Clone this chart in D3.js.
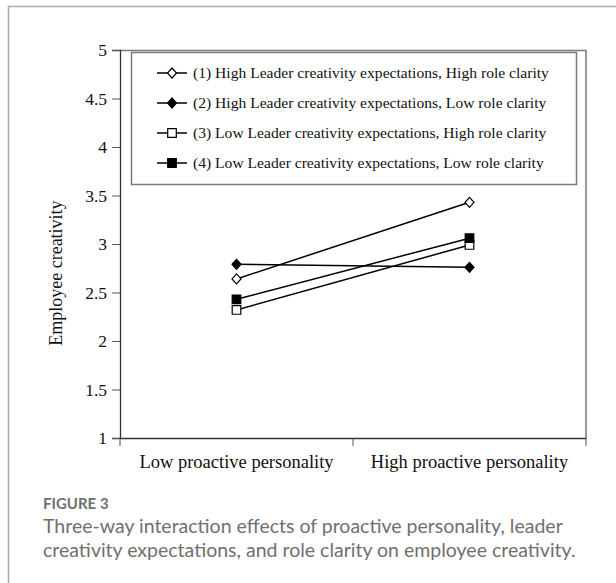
<!DOCTYPE html>
<html>
<head>
<meta charset="utf-8">
<script src="https://cdn.jsdelivr.net/npm/d3@7"></script>
<style>
  body { margin: 0; background: #fff; }
  svg { display: block; }
</style>
</head>
<body>
<script>
// data
const groups = ['Low proactive personality', 'High proactive personality'];
const seriesNames = [
    '(1) High Leader creativity expectations, High role clarity',
    '(2) High Leader creativity expectations, Low role clarity',
    '(3) Low Leader creativity expectations, High role clarity',
    '(4) Low Leader creativity expectations, Low role clarity'
];
const s1 = [2.64, 3.43];
const s2 = [2.79, 2.76];
const s3 = [2.32, 2.99];
const s4 = [2.43, 3.06];
const yTicks = [1, 1.5, 2, 2.5, 3, 3.5, 4, 4.5, 5];
const markers = ['diamondOpen', 'diamond', 'squareOpen', 'square'];

const W = 616, H = 583;
const margin = {top: 50, right: 30, bottom: 145, left: 120};
const width = W - margin.left - margin.right,
      height = H - margin.top - margin.bottom;
const serif = '"Liberation Serif", "Times New Roman", serif';

const root = d3.select('body').append('svg')
    .attr('width', W)
    .attr('height', H);

// outer figure frame (left and top only)
root.append('path')
    .attr('d', 'M8.5,' + H + 'V6.5H' + W)
    .attr('fill', 'none')
    .attr('stroke', '#adadad')
    .attr('stroke-width', 1.5);

const svg = root.append('g')
    .attr('transform', 'translate(' + margin.left + ',' + margin.top + ')');

const x = d3.scaleBand().domain(groups).range([0, width]);
const y = d3.scaleLinear().domain([1, 5]).range([height, 0]);

// plot frame top / right
svg.append('path')
    .attr('d', 'M0,0.5H' + width + 'V' + height)
    .attr('fill', 'none')
    .attr('stroke', '#7a7a7a')
    .attr('stroke-width', 1.5);

// y axis
const yAxis = svg.append('g')
    .call(d3.axisLeft(y).tickValues(yTicks).tickSize(8).tickPadding(5).tickFormat(d3.format('')));
yAxis.select('.domain').attr('stroke', '#333').attr('stroke-width', 1.3);
yAxis.selectAll('.tick line').attr('stroke', '#555');
yAxis.selectAll('text').style('font-family', serif).style('font-size', '17.5px').attr('fill', '#111');

// x axis with ticks at band edges
const xAxis = svg.append('g')
    .attr('transform', 'translate(0,' + height + ')')
    .call(d3.axisBottom(x).tickSize(0).tickPadding(17));
xAxis.select('.domain').attr('stroke', '#333').attr('stroke-width', 1.3);
xAxis.selectAll('text').style('font-family', serif).style('font-size', '18.5px').attr('fill', '#111');
xAxis.selectAll('.edge')
    .data([0, x.bandwidth(), width])
    .enter().append('line')
    .attr('x1', d => d).attr('x2', d => d)
    .attr('y1', 0).attr('y2', 8)
    .attr('stroke', '#555');

// y axis title
svg.append('text')
    .attr('transform', 'translate(-58,' + (y(2.7)) + ') rotate(-90)')
    .attr('text-anchor', 'middle')
    .style('font-family', serif)
    .style('font-size', '18px')
    .attr('fill', '#111')
    .text('Employee creativity');

function markerPath(type, s) {
    if (type.indexOf('diamond') === 0) {
        return 'M0,' + (-s) + 'L' + (s * 0.9) + ',0L0,' + s + 'L' + (-s * 0.9) + ',0Z';
    }
    return 'M' + (-s) + ',' + (-s) + 'H' + s + 'V' + s + 'H' + (-s) + 'Z';
}
function drawMarker(g, type, cx, cy) {
    const open = type.indexOf('Open') > 0;
    const size = type.indexOf('diamond') === 0 ? 5 : 4.3;
    g.append('path')
        .attr('d', markerPath(type, size))
        .attr('transform', 'translate(' + cx + ',' + cy + ')')
        .attr('fill', open ? '#fff' : '#000')
        .attr('stroke', '#000')
        .attr('stroke-width', 1.2);
}

// series
const allSeries = [s1, s2, s3, s4];
const line = d3.line()
    .x((d, i) => x(groups[i]) + x.bandwidth() / 2)
    .y(d => y(d));

allSeries.forEach(function(vals, k) {
    const g = svg.append('g');
    g.append('path')
        .datum(vals)
        .attr('d', line)
        .attr('fill', 'none')
        .attr('stroke', '#000')
        .attr('stroke-width', 1.5);
    vals.forEach(function(v, i) {
        drawMarker(g, markers[k], x(groups[i]) + x.bandwidth() / 2, y(v));
    });
});

// legend
const legend = svg.append('g').attr('transform', 'translate(11,2)');
legend.append('rect')
    .attr('x', 0.5).attr('y', 0.5)
    .attr('width', 445).attr('height', 132)
    .attr('fill', '#fff')
    .attr('stroke', '#7a7a7a')
    .attr('stroke-width', 1.5);

seriesNames.forEach(function(name, k) {
    const ly = 21 + k * 30;
    const g = legend.append('g');
    g.append('line')
        .attr('x1', 26).attr('x2', 56)
        .attr('y1', ly).attr('y2', ly)
        .attr('stroke', '#000').attr('stroke-width', 1.5);
    drawMarker(g, markers[k], 41, ly);
    g.append('text')
        .attr('x', 62).attr('y', ly + 5)
        .style('font-family', serif)
        .style('font-size', '15.6px')
        .attr('fill', '#111')
        .text(name);
});

// caption
const sans = 'Lato, "Open Sans", sans-serif';
root.append('text')
    .attr('x', 43).attr('y', 509)
    .style('font-family', sans)
    .style('font-size', '15px')
    .style('font-weight', 'bold')
    .attr('fill', '#707070')
    .text('FIGURE 3');
root.append('text')
    .attr('x', 43).attr('y', 533)
    .style('font-family', sans)
    .style('font-size', '19.5px')
    .attr('fill', '#707070')
    .text('Three-way interaction effects of proactive personality, leader');
root.append('text')
    .attr('x', 43).attr('y', 557)
    .style('font-family', sans)
    .style('font-size', '19.5px')
    .attr('fill', '#707070')
    .text('creativity expectations, and role clarity on employee creativity.');
</script>
</body>
</html>
